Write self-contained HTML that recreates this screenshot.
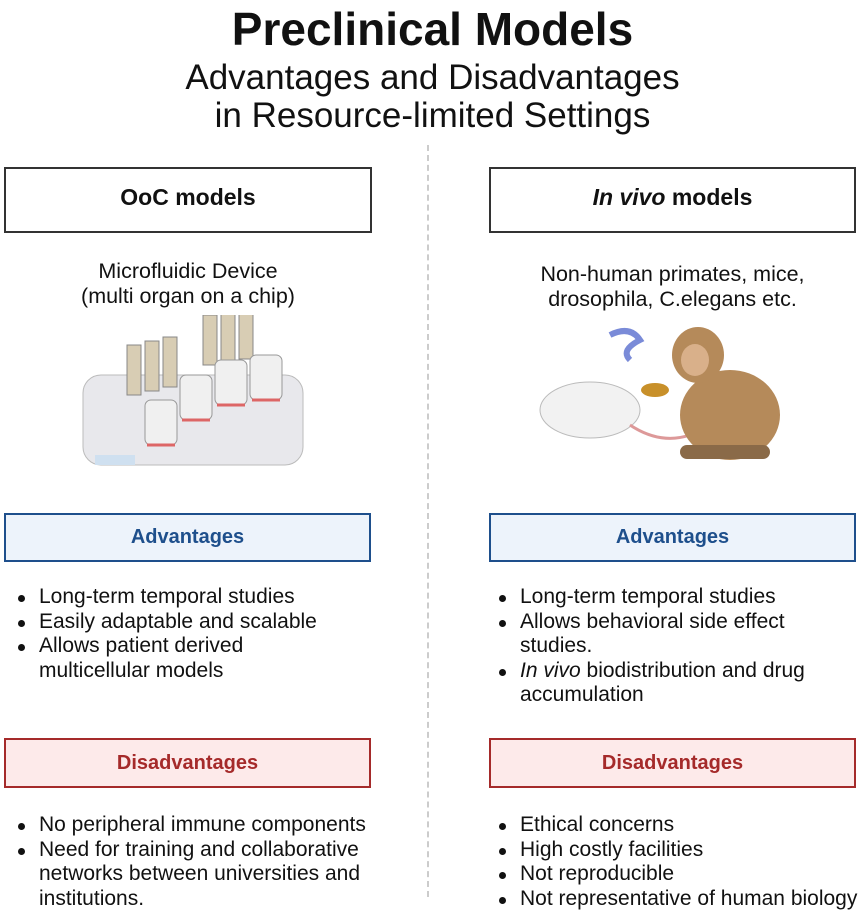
<!DOCTYPE html>
<html><head><meta charset="utf-8"><style>
*{margin:0;padding:0;box-sizing:border-box}
body{width:865px;height:913px;background:#fff;position:relative;overflow:hidden;font-family:"Liberation Sans",sans-serif;color:#111}
.a{position:absolute}
.c{text-align:center}
.box{position:absolute;border:2px solid #333;display:flex;align-items:center;justify-content:center;font-weight:bold}
.adv{background:#edf3fb;border-color:#1e4f8c;color:#1e4f8c;font-size:20px}
.dis{background:#fdeaea;border-color:#a52a2a;color:#a52a2a;font-size:20px}
ul{position:absolute;font-size:21px;line-height:24.5px;list-style:none;white-space:nowrap}
li{position:relative;padding-left:23px}
li:before{content:"";position:absolute;left:2px;top:10px;width:7px;height:7px;border-radius:50%;background:#111}
</style></head><body>
<div class="a c" style="left:0;width:865px;top:2px;font-size:46px;font-weight:bold">Preclinical Models</div>
<div class="a c" style="left:0;width:865px;top:59px;font-size:35px;line-height:38px">Advantages and Disadvantages<br>in Resource-limited Settings</div>
<div class="a" style="left:427px;top:145px;height:752px;border-left:2px dashed #ccc"></div>

<div class="box" style="left:4px;top:167px;width:368px;height:66px;font-size:23px;padding-bottom:6px">OoC models</div>
<div class="box" style="left:489px;top:167px;width:367px;height:66px;font-size:23px;padding-bottom:6px"><i>In vivo</i>&nbsp;models</div>

<div class="a c" style="left:4px;width:368px;top:259px;font-size:21.5px;line-height:25px">Microfluidic Device<br>(multi organ on a chip)</div>
<div class="a c" style="left:489px;width:367px;top:262px;font-size:21.5px;line-height:25px">Non-human primates, mice,<br>drosophila, C.elegans etc.</div>

<svg class="a" style="left:75px;top:315px" width="260" height="160">
<rect x="8" y="60" width="220" height="90" rx="18" fill="#e8e8ec" stroke="#bbb"/>
<rect x="20" y="140" width="40" height="10" fill="#cfe0f0"/>
<g fill="#d8cdb4" stroke="#888"><rect x="52" y="30" width="14" height="50"/><rect x="70" y="26" width="14" height="50"/><rect x="88" y="22" width="14" height="50"/>
<rect x="128" y="0" width="14" height="50"/><rect x="146" y="-3" width="14" height="50"/><rect x="164" y="-6" width="14" height="50"/></g>
<g fill="#f0f0f0" stroke="#999"><rect x="70" y="85" width="32" height="45" rx="6"/><rect x="105" y="60" width="32" height="45" rx="6"/><rect x="140" y="45" width="32" height="45" rx="6"/><rect x="175" y="40" width="32" height="45" rx="6"/></g>
<g stroke="#d66" stroke-width="3"><line x1="72" y1="130" x2="100" y2="130"/><line x1="107" y1="105" x2="135" y2="105"/><line x1="142" y1="90" x2="170" y2="90"/><line x1="177" y1="85" x2="205" y2="85"/></g>
</svg>
<svg class="a" style="left:520px;top:315px" width="330" height="150">
<path d="M90 20 q20 -10 30 5 q-20 10 -10 20" stroke="#7a8bd8" stroke-width="6" fill="none"/>
<ellipse cx="135" cy="75" rx="14" ry="7" fill="#c8902a"/>
<ellipse cx="70" cy="95" rx="50" ry="28" fill="#f2f2f2" stroke="#bbb"/>
<path d="M110 110 q30 20 60 10" stroke="#d99" stroke-width="3" fill="none"/>
<ellipse cx="210" cy="100" rx="50" ry="45" fill="#b58a5a"/>
<ellipse cx="178" cy="40" rx="26" ry="28" fill="#b58a5a"/>
<ellipse cx="175" cy="45" rx="14" ry="16" fill="#d9b08a"/>
<rect x="160" y="130" width="90" height="14" rx="7" fill="#8a6a48"/>
</svg>

<div class="box adv" style="left:4px;top:513px;width:367px;height:49px">Advantages</div>
<div class="box adv" style="left:489px;top:513px;width:367px;height:49px">Advantages</div>

<ul style="left:16px;top:585px"><li>Long-term temporal studies</li><li>Easily adaptable and scalable</li><li>Allows patient derived<br>multicellular models</li></ul>
<ul style="left:497px;top:585px"><li>Long-term temporal studies</li><li>Allows behavioral side effect<br>studies.</li><li><i>In vivo</i> biodistribution and drug<br>accumulation</li></ul>

<div class="box dis" style="left:4px;top:738px;width:367px;height:50px">Disadvantages</div>
<div class="box dis" style="left:489px;top:738px;width:367px;height:50px">Disadvantages</div>

<ul style="left:16px;top:813px"><li>No peripheral immune components</li><li>Need for training and collaborative<br>networks between universities and<br>institutions.</li></ul>
<ul style="left:497px;top:813px"><li>Ethical concerns</li><li>High costly facilities</li><li>Not reproducible</li><li>Not representative of human biology</li></ul>
</body></html>
